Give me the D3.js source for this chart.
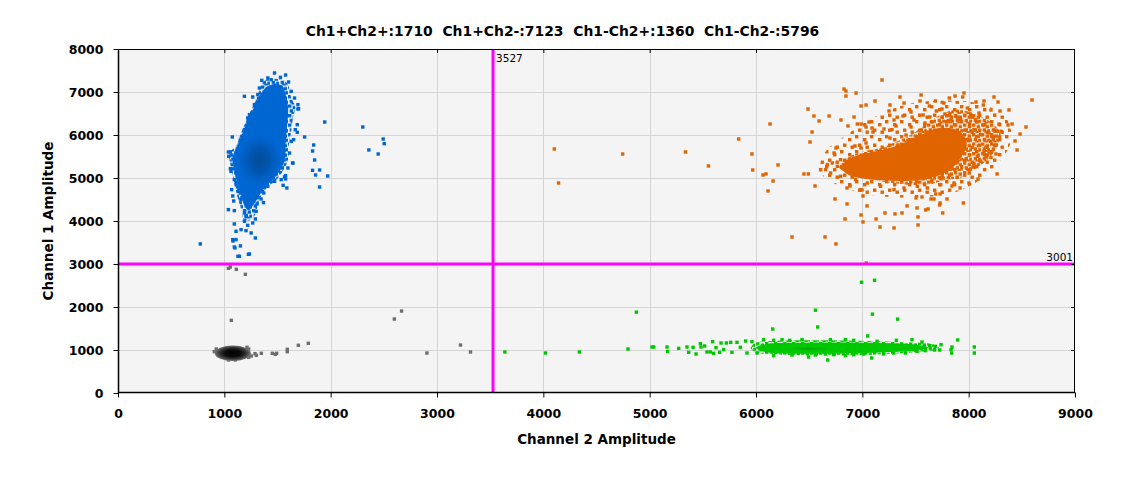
<!DOCTYPE html>
<html>
<head>
<meta charset="utf-8">
<script src="https://cdn.jsdelivr.net/npm/d3@7"></script>
<style>
body { margin: 0; background: #fff; }
svg { display: block; }
text { font-family: "DejaVu Sans", sans-serif; }
</style>
</head>
<body>
<svg id="chart" width="1125" height="478"></svg>
<script>
// quadrant counts shown in the title
const counts = [["Ch1+Ch2+", 1710], ["Ch1+Ch2-", 7123], ["Ch1-Ch2+", 1360], ["Ch1-Ch2-", 5796]]
const xTicks = [0, 1000, 2000, 3000, 4000, 5000, 6000, 7000, 8000, 9000]
const yTicks = [0, 1000, 2000, 3000, 4000, 5000, 6000, 7000, 8000]
const thresholdCh2 = 3527
const thresholdCh1 = 3001

// cluster outlines as [ch2, ch1]: "halo" = scattered, "outer" = loosely packed, "body" = solid packed
const blueOuter = [[1393,7287],[1472,7310],[1566,7264],[1604,7132],[1629,6860],[1667,6667],[1645,6396],[1629,6085],
    [1607,5776],[1604,5466],[1566,5233],[1519,5039],[1456,4884],[1384,4729],[1346,4574],[1315,4380],[1290,4150],
    [1240,4020],[1185,4020],[1165,4225],[1126,4535],[1101,4807],[1079,5078],[1057,5310],[1047,5582],[1110,5737],
    [1151,6008],[1204,6318],[1252,6589],[1299,6822],[1330,7054],[1352,7209]]
const blueBody = [[1420,7150],[1540,7150],[1580,6900],[1600,6600],[1590,6200],[1575,5800],[1570,5450],[1530,5200],
    [1470,5000],[1390,4800],[1330,4600],[1280,4400],[1230,4250],[1190,4350],[1160,4600],[1120,4900],[1090,5200],
    [1080,5500],[1130,5800],[1180,6100],[1230,6400],[1290,6700],[1340,6950]]
const orangeHalo = [[6600,5150],[6800,4800],[7100,4600],[7500,4550],[7850,4650],[8100,4950],[8300,5400],[8400,5900],
    [8350,6400],[8150,6700],[7800,6800],[7400,6700],[7100,6400],[6850,6000],[6650,5600]]
const orangeOuter = [[6780,5250],[6984,5040],[7172,4923],[7423,4845],[7611,4845],[7800,4962],[7925,5000],[8050,5194],
    [8176,5427],[8270,5737],[8301,6008],[8238,6240],[8113,6434],[7988,6550],[7862,6589],[7737,6473],[7611,6279],
    [7486,6047],[7329,5853],[7172,5698],[7016,5620],[6859,5465]]
const orangeBody = [[6800,5250],[6880,5450],[7050,5580],[7250,5690],[7400,5820],[7550,6000],[7700,6150],[7850,6150],
    [7950,6000],[7980,5750],[7920,5450],[7800,5150],[7600,4980],[7400,4930],[7200,4950],[7000,4990],[6860,5090]]
const greenOuter = [[5950,1060],[6000,1170],[6200,1215],[6500,1225],[6800,1220],[7100,1210],[7400,1180],[7650,1140],
    [7720,1060],[7650,980],[7400,930],[7100,890],[6800,870],[6500,870],[6200,900],[6000,940]]
const greenBody = [[6000,1050],[6100,1140],[6400,1170],[6800,1175],[7200,1160],[7500,1120],[7620,1060],[7500,990],
    [7200,950],[6800,920],[6400,915],[6100,950]]

// darker cores: [ch2, ch1, radius ch2, radius ch1]
const blueCore = [1330, 5420, 210, 620]
const grayCore = [1080, 925, 170, 180]
const greenCore = [6500, 1030, 280, 70]

// single droplets, [ch2, ch1]
const blueDots = [[1472,7442],[1576,7395],[1189,6900],[1267,6884],[1692,6605],[1944,6302],[2302,6186],[2359,5652],
    [2494,5907],[2504,5799],[2447,5558],[1755,5954],[1840,5768],[1830,5628],[1849,5419],[1830,5179],[1896,5186],
    [1858,5070],[1972,5047],[1896,4791],[1642,5349],[1566,5024],[1576,4977],[1553,4830],[1588,4768],[1651,5892],
    [1686,6062],[1075,5954],[1151,5884],[1038,5605],[1057,5217],[1069,4729],[1079,4582],[1088,4466],[1038,4264],
    [1094,4241],[1368,4427],[1346,4512],[1308,4396],[1299,4225],[1292,4047],[1204,4109],[1189,4187],[1094,3931],
    [1189,3993],[1267,3954],[1157,3799],[1220,3900],[1110,3760],[1204,3776],[1252,3722],[1079,3567],[1110,3567],
    [1151,3420],[1094,3396],[1292,3605],[1236,3233],[1142,3179],[774,3466],[1082,3535],[1100,3374],[1128,3179],
    [1226,3225],[1352,7271],[1409,7326],[1440,7287],[1528,7341],[1604,7233],[1629,7016],[1692,6706],[1698,6613],
    [1660,6860],[1686,6240],[1667,6124],[1629,5853],[1613,5582],[1645,5349],[1598,5233],[1576,5055],[1535,4962],
    [1472,4923],[1409,4807],[1371,4652],[1057,5605],[1041,5504],[1063,5155],[1094,4962],[1110,4846],[1132,4691],
    [1157,4497],[1173,5853],[1189,6124],[1220,6396],[1236,6473],[1283,6706],[1315,6938],[1330,7093]]

const orangeDots = [[4103,5675],[4143,4884],[4746,5558],[5336,5605],[5553,5280],[5837,5907],[7037,3023],
    [7185,7279],[6828,7070],[6846,7023],[6846,6907],[6941,6977],[7354,6884],[7552,6930],[7956,6977],[7944,6884],
    [7872,6907],[7818,6860],[7768,6744],[7687,6791],[7630,6675],[7542,6791],[7392,6744],[7119,6791],[7035,6698],
    [6988,6675],[7260,6698],[8144,6791],[8069,6767],[8238,6884],[8276,6767],[8138,6698],[8210,6582],[8295,6558],
    [8379,6582],[8596,6814],[8539,6186],[8483,6023],[8436,5861],[8455,5651],[8408,6256],[8370,6233],[8285,6256],
    [8304,6086],[8292,5954],[8257,5768],[8267,5094],[8088,4977],[8003,4884],[8041,5256],[8006,5117],[8163,5489],
    [8257,5559],[8163,5721],[8210,5481],[7950,4419],[7796,4512],[7731,4629],[7690,4629],[7919,4768],[7843,4815],
    [7756,4187],[7728,4373],[7731,4419],[7618,4280],[7596,4257],[7674,4512],[7646,4512],[7561,4559],[7505,4536],
    [7514,4303],[7524,4094],[7524,3908],[7420,4350],[7373,4187],[7307,4164],[7213,4187],[7298,3838],[7166,3861],
    [7129,4047],[7006,3977],[6988,4140],[7044,4350],[6856,4396],[6837,4047],[7006,4582],[6997,4722],[6978,4722],
    [6856,4768],[6884,4815],[6743,4512],[6555,4815],[6492,5094],[6451,5094],[6339,3629],[6649,3629],[6752,3466],
    [6160,4931],[6113,4698],[6207,5303],[6094,5094],[6066,5070],[5969,5186],[5962,5559],[6132,6256],[6489,6605],
    [6545,6442],[6593,6326],[6687,6442],[6527,6070],[6508,5837],[6734,5582],[6752,5698],[6799,6349],[6922,6419],
    [6865,6210],[6953,6256],[6988,6256],[7063,6302],[7035,6186],[7100,6070],[7035,5814],[6931,5744],[6988,5698],
    [7091,6163],[7204,6140],[7260,5930],[7317,6210],[7279,6124],[7298,6349],[7251,6558],[7383,6442],[7458,6535],
    [7486,6349],[7571,6465],[7636,6419],[7696,6558],[7749,6605],[7777,6489],[7875,6442],[7837,6349],[7542,6023],
    [7458,6186],[7411,6000],[7514,5814],[7392,5698],[7336,5768],[7589,6279],[7668,6070],[7621,5930],[8050,6124],
    [8113,6008],[8191,6047],[8238,5969],[8207,5853],[8144,5620],[8082,5504],[8113,5388],[8050,5310],[8191,5582],
    [8270,6086],[8144,6240],[8066,6357],[8097,6512],[8019,6473],[7925,6357],[7988,6628],[7172,4807],[7298,4730],
    [7392,4768],[7517,4807],[7611,4768],[7737,4845],[7862,4884],[7047,4884],[6937,4962],[6796,5040],[6702,5117],
    [6765,5272],[6718,5350],[6796,5427],[6859,5388],[6655,5194],[6671,5311],[6608,5194],[6828,5233]]

const greenDots = [[3638,954],[4021,930],[4339,954],[4875,1880],[6559,1926],[6993,2575],[7115,2621],[7095,1834],
    [7332,1718],[4796,1023],[5022,1070],[5038,1070],[5163,1070],[5169,969],[5273,1039],[5351,1070],[5367,946],
    [5408,1062],[5436,907],[5477,1147],[5483,1070],[5517,1093],[5539,954],[5570,954],[5592,1194],[5602,922],
    [5624,1054],[5658,946],[5671,1163],[5696,1008],[5721,1163],[5762,1178],[5774,946],[5821,1178],[5853,1062],
    [5903,1209],[6157,1488],[6580,1535],[6674,768],[7050,1326],[7088,814],[7740,1124],[7897,1233],[7843,1070],
    [7834,1008],[7840,930],[8053,1070],[8053,930],[7687,1085],[7728,1000],[7680,1000],[7633,1101],[7593,985],
    [7502,993],[5962,1194],[6072,1240],[6166,1225],[6245,1240],[6317,1225],[6433,1240],[6699,1240],[6840,1240],
    [6919,1225],[7138,1202],[7320,1225],[7467,1240],[7561,1186],[5915,930],[6009,930],[6166,868],[6339,884],
    [6495,837],[6558,884],[6730,891],[6840,868],[6919,891],[7013,907],[7201,907],[7295,930],[7405,930],[7514,969]]

const grayDots = [[1038,2899],[1056,2930],[1113,2876],[1198,2760],[1066,1690],[1288,915],[1301,877],[1348,923],
    [1451,923],[1480,900],[1492,923],[1592,1016],[1592,960],[1696,1109],[1790,1156],[2599,1720],[2667,1906],
    [2905,930],[3221,1116],[3315,954],[906,961],[924,1023],[1040,768],[1103,768],[1229,830],[1254,861],
    [1229,1023],[1213,1063]]

const blue = "#0066d2", orange = "#e06400", green = "#00c800", gray = "#6e6e6e"

const svg = d3.select("#chart")
const pLeft = 118, pRight = 1075, pTop = 49, pBottom = 393
const x = d3.scaleLinear().domain([0, 9000]).range([pLeft, pRight])
const y = d3.scaleLinear().domain([0, 8000]).range([pBottom, pTop])
const sz = 3.4

svg.append("rect").attr("width", 1125).attr("height", 478).attr("fill", "#fff")
svg.append("rect")
    .attr("x", pLeft).attr("y", pTop).attr("width", pRight - pLeft).attr("height", pBottom - pTop)
    .attr("fill", "#f4f4f4")

// grid
const grid = svg.append("g").attr("stroke", "#d4d4d4").attr("stroke-width", 1)
grid.selectAll(".gx").data(xTicks.slice(1, -1)).join("line")
    .attr("x1", d => Math.round(x(d)) + 0.5).attr("x2", d => Math.round(x(d)) + 0.5)
    .attr("y1", pTop).attr("y2", pBottom)
grid.selectAll(".gy").data(yTicks.slice(1, -1)).join("line")
    .attr("y1", d => Math.round(y(d)) + 0.5).attr("y2", d => Math.round(y(d)) + 0.5)
    .attr("x1", pLeft).attr("x2", pRight)

const defs = svg.append("defs")
const addGradient = (id, stops) => {
    const g = defs.append("radialGradient").attr("id", id)
    stops.forEach(s => g.append("stop").attr("offset", s[0]).attr("stop-color", s[1]).attr("stop-opacity", s[2]))
}
addGradient("blueCore", [[0, "#004c98", 1], [0.45, "#0054aa", 0.9], [0.8, "#005dc0", 0.5], [1, blue, 0]])
addGradient("grayCore", [[0, "#000", 1], [0.45, "#0c0c0c", 1], [0.75, "#383838", 1], [1, "#767676", 1]])
addGradient("greenCore", [[0, "#009a00", 0.7], [1, green, 0]])

// packing textures: tiles of droplet squares
const speckle = [[0, 0], [4.6, 1.4], [1.6, 4.8], [6.2, 5.6], [3.4, 7.6]]
const sparse = [[0, 0], [8, 3], [3, 8.5], [10.5, 10.5]]
const addSpeckle = (id, color, tile, w, h) => {
    const p = defs.append("pattern").attr("id", id).attr("patternUnits", "userSpaceOnUse")
        .attr("width", w).attr("height", h)
    p.selectAll("rect").data(tile).join("rect")
        .attr("x", d => d[0]).attr("y", d => d[1]).attr("width", sz).attr("height", sz).attr("fill", color)
}
addSpeckle("blueSpk", blue, speckle, 9, 9.5)
addSpeckle("orangeSpk", orange, speckle, 9, 9.5)
addSpeckle("orangeSparse", orange, sparse, 15, 15)
addSpeckle("greenSpk", green, speckle, 9, 9.5)

const outline = d3.line().x(d => x(d[0])).y(d => y(d[1])).curve(d3.curveCatmullRomClosed)
const drawBody = (pts, fill) => svg.append("path").attr("d", outline(pts)).attr("fill", fill)
const drawCore = (c, grad) => svg.append("ellipse")
    .attr("cx", x(c[0])).attr("cy", y(c[1]))
    .attr("rx", x(c[0] + c[2]) - x(c[0])).attr("ry", y(c[1]) - y(c[1] + c[3]))
    .attr("fill", `url(#${grad})`)
const drawDots = (pts, color) => svg.append("g").attr("fill", color)
    .selectAll("rect").data(pts).join("rect")
    .attr("x", d => x(d[0]) - sz / 2).attr("y", d => y(d[1]) - sz / 2)
    .attr("width", sz).attr("height", sz)

drawDots(grayDots, gray)
drawCore(grayCore, "grayCore")
drawBody(greenOuter, "url(#greenSpk)")
drawBody(greenBody, green)
drawDots(greenDots, green)
drawCore(greenCore, "greenCore")
drawBody(orangeHalo, "url(#orangeSparse)")
drawBody(orangeOuter, "url(#orangeSpk)")
drawBody(orangeBody, orange)
drawDots(orangeDots, orange)
drawBody(blueOuter, "url(#blueSpk)")
drawBody(blueBody, blue)
drawDots(blueDots, blue)
drawCore(blueCore, "blueCore")

// thresholds
svg.append("line").attr("x1", x(thresholdCh2)).attr("x2", x(thresholdCh2)).attr("y1", pTop).attr("y2", pBottom)
    .attr("stroke", "#ff00ff").attr("stroke-width", 3)
svg.append("line").attr("y1", y(thresholdCh1)).attr("y2", y(thresholdCh1)).attr("x1", pLeft).attr("x2", pRight)
    .attr("stroke", "#ff00ff").attr("stroke-width", 3)
svg.append("text").attr("x", x(thresholdCh2) + 3).attr("y", pTop + 12.5)
    .attr("font-size", 10.5).attr("fill", "#000").text(thresholdCh2)
svg.append("text").attr("x", pRight - 2).attr("y", y(thresholdCh1) - 3).attr("text-anchor", "end")
    .attr("font-size", 10.5).attr("fill", "#000").text(thresholdCh1)

// frame and ticks
svg.append("rect")
    .attr("x", pLeft + 0.5).attr("y", pTop + 0.5).attr("width", pRight - pLeft - 1).attr("height", pBottom - pTop - 1)
    .attr("fill", "none").attr("stroke", "#000").attr("stroke-width", 1)
svg.append("line").attr("x1", pLeft).attr("x2", pRight).attr("y1", pBottom - 0.5).attr("y2", pBottom - 0.5)
    .attr("stroke", "#000").attr("stroke-width", 1.5)
svg.append("line").attr("x1", pLeft + 0.5).attr("x2", pLeft + 0.5).attr("y1", pTop).attr("y2", pBottom)
    .attr("stroke", "#000").attr("stroke-width", 1.5)

const styleAxis = g => {
    g.select(".domain").remove()
    g.selectAll("text").attr("font-family", "DejaVu Sans, sans-serif")
        .attr("font-weight", "bold").attr("font-size", 12.5).attr("fill", "#000")
    g.selectAll("line").attr("stroke", "#000")
}
svg.append("g").attr("transform", `translate(0,${pBottom - 0.5})`)
    .call(d3.axisBottom(x).tickValues(xTicks).tickFormat(d3.format("d")).tickSize(5).tickPadding(12))
    .call(styleAxis)
svg.append("g").attr("transform", `translate(${pLeft + 0.5},0)`)
    .call(d3.axisLeft(y).tickValues(yTicks).tickFormat(d3.format("d")).tickSize(5).tickPadding(10))
    .call(styleAxis)
svg.append("g").attr("transform", `translate(0,${pTop})`)
    .call(d3.axisBottom(x).tickValues(xTicks.slice(1, -1)).tickFormat("").tickSize(4))
    .call(styleAxis)
svg.append("g").attr("transform", `translate(${pRight},0)`)
    .call(d3.axisLeft(y).tickValues(yTicks.slice(1, -1)).tickFormat("").tickSize(4))
    .call(styleAxis)

// titles
svg.append("text").attr("x", 562.5).attr("y", 36).attr("text-anchor", "middle")
    .attr("font-weight", "bold").attr("font-size", 13.9).attr("fill", "#000")
    .attr("xml:space", "preserve").style("white-space", "pre")
    .text(counts.map(c => `${c[0]}:${c[1]}`).join("  "))
svg.append("text").attr("x", (pLeft + pRight) / 2).attr("y", 444).attr("text-anchor", "middle")
    .attr("font-weight", "bold").attr("font-size", 13.5).attr("fill", "#000")
    .text("Channel 2 Amplitude")
svg.append("text").attr("transform", `translate(53,${(pTop + pBottom) / 2}) rotate(-90)`).attr("text-anchor", "middle")
    .attr("font-weight", "bold").attr("font-size", 13.5).attr("fill", "#000")
    .text("Channel 1 Amplitude")
</script>
</body>
</html>
